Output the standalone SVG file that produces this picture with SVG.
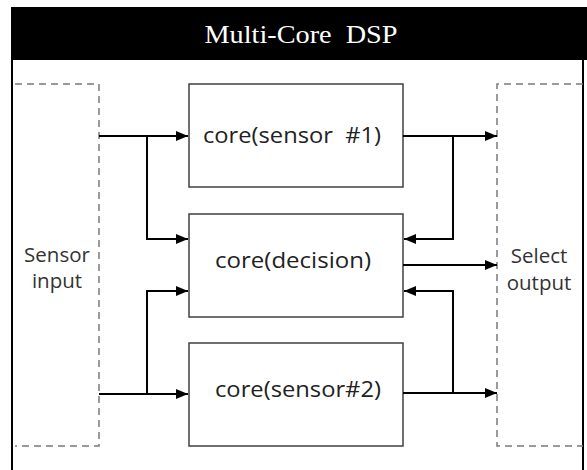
<svg xmlns="http://www.w3.org/2000/svg" width="587" height="470" viewBox="0 0 587 470">
<style>
.frame{fill:none;stroke:#000;stroke-width:2}
.dash{fill:none;stroke:#7a7a7a;stroke-width:1.5;stroke-dasharray:7,5}
.core{fill:#fff;stroke:#404040;stroke-width:1.5}
.lbl{font-family:"Open Sans","Noto Sans",sans-serif;font-size:22px;fill:#222;text-anchor:middle;white-space:pre}
.side{font-family:"Open Sans","Noto Sans",sans-serif;font-size:20.5px;fill:#333;text-anchor:middle}
.title{font-family:"Liberation Serif",serif;font-size:25px;fill:#fff;text-anchor:middle;white-space:pre}
.conn path{fill:none;stroke:#000;stroke-width:2}
</style>
<defs>
<marker id="arr" markerWidth="12" markerHeight="12" refX="12" refY="6" orient="auto" markerUnits="userSpaceOnUse">
<path d="M0,1 L12,6 L0,11 Z" fill="#000"/>
</marker>
</defs>
<rect x="0" y="0" width="587" height="470" fill="#fff"/>
<g id="frame">
<rect x="11" y="7" width="576" height="53" fill="#000"/>
<line x1="12" y1="60" x2="12" y2="470" class="frame"/>
<line x1="583" y1="60" x2="583" y2="470" class="frame"/>
<text x="301" y="43" class="title" xml:space="preserve" textLength="193" lengthAdjust="spacingAndGlyphs">Multi-Core  DSP</text>
</g>
<g id="sensor-input">
<path d="M15,84 H99 V446 H15" class="dash"/>
<text x="57" y="262" class="side">Sensor</text>
<text x="57" y="288" class="side">input</text>
</g>
<g id="select-output">
<path d="M583,84 H497 V446 H583" class="dash"/>
<text x="539" y="263" class="side">Select</text>
<text x="539" y="290" class="side">output</text>
</g>
<g id="core-sensor1">
<rect x="189" y="84" width="214" height="103" class="core"/>
<text x="292" y="143" class="lbl" xml:space="preserve" textLength="178" lengthAdjust="spacingAndGlyphs">core(sensor  #1)</text>
</g>
<g id="core-decision">
<rect x="189" y="214" width="214" height="103" class="core"/>
<text x="293" y="268" class="lbl" textLength="156" lengthAdjust="spacingAndGlyphs">core(decision)</text>
</g>
<g id="core-sensor2">
<rect x="189" y="343" width="214" height="103" class="core"/>
<text x="298" y="397" class="lbl" textLength="166" lengthAdjust="spacingAndGlyphs">core(sensor#2)</text>
</g>
<g class="conn" id="connectors">
<path d="M99,136 H188" marker-end="url(#arr)"/>
<path d="M147,136 V239 H188" marker-end="url(#arr)"/>
<path d="M99,394 H188" marker-end="url(#arr)"/>
<path d="M147,394 V291 H188" marker-end="url(#arr)"/>
<path d="M403,136 H497" marker-end="url(#arr)"/>
<path d="M453,136 V239 H404" marker-end="url(#arr)"/>
<path d="M403,265 H497" marker-end="url(#arr)"/>
<path d="M403,393 H497" marker-end="url(#arr)"/>
<path d="M453,393 V291 H404" marker-end="url(#arr)"/>
</g>
</svg>
